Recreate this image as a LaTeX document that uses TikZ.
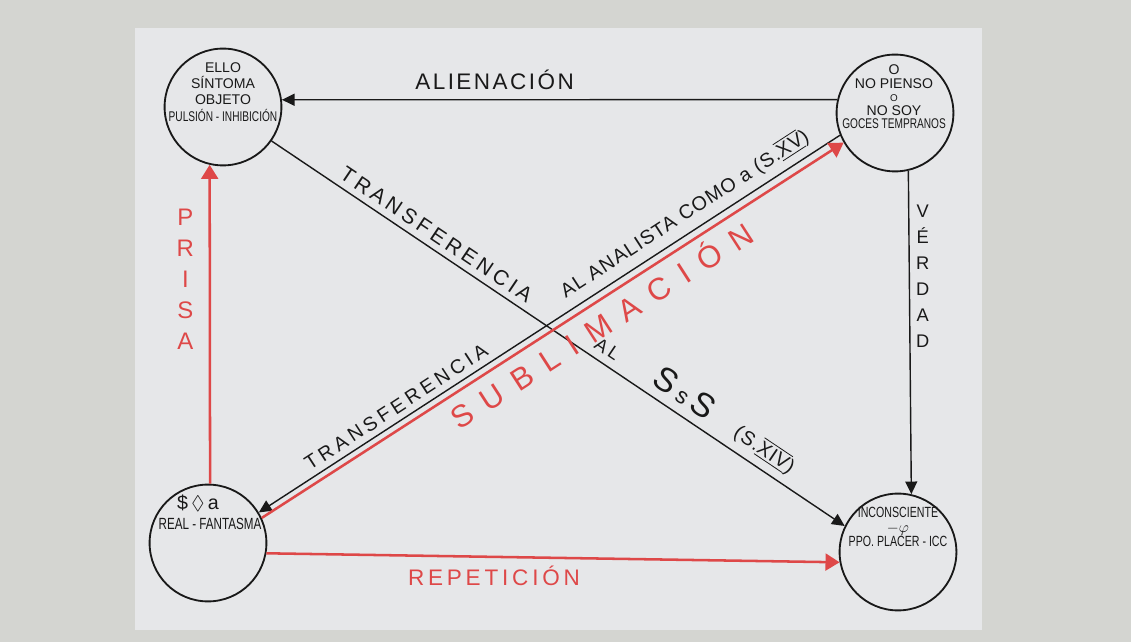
\documentclass[tikz,border=0pt]{standalone}
\usepackage{amssymb}
\usepackage{fontspec}
\setmainfont{Liberation Sans}
\newfontfamily\narrow[FakeStretch=0.72]{Liberation Sans}
\usetikzlibrary{arrows.meta,positioning,calc}
\definecolor{pencilred}{RGB}{222,72,72}
\definecolor{ink}{RGB}{25,25,25}
\definecolor{paper}{RGB}{230,231,233}
\definecolor{desk}{RGB}{212,213,209}
\def\sz(#1){\fontsize{#1}{#1}\selectfont}
\def\ls(#1){\addfontfeature{LetterSpace=#1}}
\def\romano(#1){$\overline{\underline{\mbox{#1}}}$}

\begin{document}
\begin{tikzpicture}[x=0.025cm,y=-0.025cm,
  estado/.style={circle,draw=ink,line width=1.3pt,minimum size=2.92cm,inner sep=0pt},
  blackline/.style={color=ink,line width=1pt,-{Triangle[length=9pt,width=8.5pt]}},
  redline/.style={color=pencilred,line width=1.8pt,-{Triangle[length=10pt,width=12pt]}}]

\path[use as bounding box,fill=desk] (0,0) rectangle (1131,642);
\fill[paper] (135,28) rectangle (982,630);

% estados
\node (ello) at (223,107) [estado] {};
\node (nopienso) at (895,113) [estado] {};
\node (fantasma) at (208,543) [estado] {};
\node (icc) at (898,552) [estado] {};

\node (ellotxt) at (223,92) [align=center,inner sep=0pt,text=ink,font={\fontsize{10}{11.6}\selectfont}] {ELLO\\SÍNTOMA\\OBJETO\\{\narrow PULSIÓN - INHIBICIÓN}};
\node (nopiensotxt) at (894,97) [align=center,inner sep=0pt,text=ink,font={\fontsize{10}{9.6}\selectfont}] {O\\NO PIENSO\\{\fontsize{7}{7}\selectfont O}\\NO SOY\\{\narrow GOCES TEMPRANOS}};
\node (fantasmaa) at (198,503) [inner sep=0pt,text=ink] {\sz(14)\$\,$\lozenge$\,a};
\node (fantasmab) at (210,524) [inner sep=0pt,text=ink] {\narrow\sz(11.5)REAL - FANTASMA};
\node (icctxt) at (898,527) [align=center,inner sep=0pt,text=ink,font={\narrow\fontsize{10.5}{10.3}\selectfont}] {INCONSCIENTE\\$-\varphi$\\PPO. PLACER - ICC};

% flechas
\draw[blackline] (nopienso.167) -- node[pos=.617,above=3pt] {\sz(16)\ls(11)ALIENACIÓN} (ello.7);
\draw[blackline] (nopienso.-77) -- node[pos=.327,right=1pt,align=center,font={\fontsize{13}{18.5}\selectfont}] {V\\É\\R\\D\\A\\D} (icc.77);
\draw[redline] (fantasma.88) -- node[pos=.64,left=7pt,align=center,font={\fontsize{17}{22}\selectfont}] {P\\R\\I\\S\\A} (ello.257);
\draw[redline] (fantasma.-10) -- node[pos=.397,below=2pt] {\sz(16)\ls(17)REPETICIÓN} (icc.190);
\draw[blackline] (ello.-35) -- node[pos=.274,above=1pt,sloped] {\sz(15)\ls(19)TRANSFERENCIA}
  node[pos=.572,above=2pt,sloped] {\sz(13)\ls(20)AL}
  node[pos=.70,above=3pt,sloped] {\sz(24)S\,{\sz(16)s}\,S}
  node[pos=.842,above=2pt,sloped] {\sz(14)\ls(6)(S.\romano(XIV))} (icc.154);
\draw[blackline] (nopienso.202) -- node[pos=.25,above=2pt,sloped] {\sz(14)\ls(6)AL ANALISTA COMO a (S.\romano(XV))}
  node[pos=.751,above=1pt,sloped] {\sz(14)\ls(20)TRANSFERENCIA} (fantasma.31);
\draw[redline] (fantasma.25) -- node[pos=.563,below=1pt,sloped] {\sz(22)\ls(45)SUBLIMACIÓN} (nopienso.210);
\end{tikzpicture}
\end{document}
